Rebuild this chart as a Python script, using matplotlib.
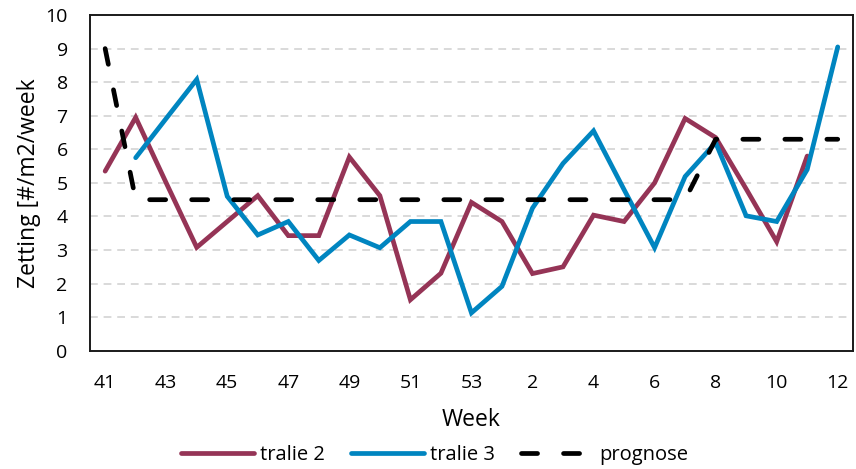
import matplotlib
matplotlib.use("Agg")
import matplotlib.pyplot as plt
import numpy as np

# weken (41..53, 1..12)
weken = [str(w) for w in range(41, 54)] + [str(w) for w in range(1, 13)]

tralie2 = [5.35, 6.95, 5.0, 3.08, 3.85, 4.62, 3.43, 3.43, 5.77, 4.62, 1.52, 2.31,
           4.42, 3.85, 2.3, 2.5, 4.04, 3.85, 5.0, 6.92, 6.35, 4.82, 3.25, 5.8, None]
tralie3 = [None, 5.75, 6.92, 8.08, 4.6, 3.45, 3.85, 2.69, 3.45, 3.07, 3.85, 3.85,
           1.13, 1.92, 4.25, 5.58, 6.55, 4.8, 3.07, 5.19, 6.2, 4.02, 3.85, 5.4, 9.05]
prognose = [9.0, 4.5, 4.5, 4.5, 4.5, 4.5, 4.5, 4.5, 4.5, 4.5, 4.5, 4.5,
            4.5, 4.5, 4.5, 4.5, 4.5, 4.5, 4.5, 4.5, 6.3, 6.3, 6.3, 6.3, 6.3]

plt.rcParams['font.family'] = ['Open Sans', 'DejaVu Sans']

fig = plt.figure(figsize=(8.56, 4.69), dpi=100)
ax = fig.add_axes([0.105, 0.252, 0.8915, 0.716])

x = np.arange(len(weken))
t2 = np.array([np.nan if v is None else v for v in tralie2])
t3 = np.array([np.nan if v is None else v for v in tralie3])

lw = 3.4
ax.plot(x, t2, color='#953456', lw=lw, label='tralie 2', solid_joinstyle='miter',
        solid_capstyle='round', zorder=3)
ax.plot(x, t3, color='#0085C0', lw=lw, label='tralie 3', solid_joinstyle='miter',
        solid_capstyle='round', zorder=4)
ax.plot(x, prognose, color='black', lw=lw, label='prognose', dashes=(3.4, 5.5),
        dash_capstyle='round', zorder=5)

ax.set_xlim(-0.5, len(weken) - 0.5)
ax.set_ylim(0, 10)
ax.set_yticks(range(0, 11))
ax.set_xticks(x[::2])
ax.set_xticklabels(weken[::2])
ax.tick_params(length=0, labelsize=14)
ax.tick_params(axis='x', pad=17)
ax.tick_params(axis='y', pad=16)

for yv in range(1, 10):
    ax.axhline(yv, color='#d9d9d9', lw=1.4, dashes=(4, 3), zorder=1)

for s in ax.spines.values():
    s.set_linewidth(1.4)
    s.set_color('#1a1a1a')

ax.set_xlabel('Week', fontsize=16.5, labelpad=11)
ax.set_ylabel('Zetting [#/m2/week', fontsize=16.5, labelpad=3)

fig.legend(loc='center', bbox_to_anchor=(0.508, 0.03), ncol=3, frameon=False,
           fontsize=14.5, handlelength=3.6, handletextpad=0.3, columnspacing=1.3)

fig.savefig('out.png', dpi=100)
